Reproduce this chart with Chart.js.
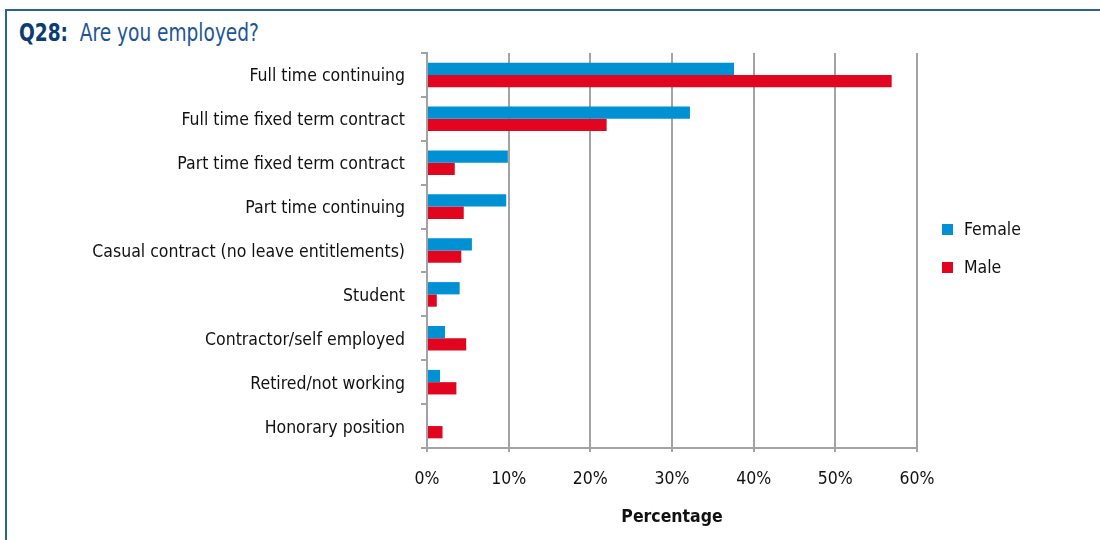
<!DOCTYPE html>
<html>
<head>
<meta charset="utf-8">
<script src="https://cdn.jsdelivr.net/npm/chart.js@4.4.1/dist/chart.umd.min.js"></script>
<style>
  html, body { margin: 0; padding: 0; background: #fff; }
  body { width: 1100px; height: 540px; position: relative; overflow: hidden;
         font-family: 'Liberation Sans Narrow', 'DejaVu Sans Condensed', 'Arial Narrow', sans-serif; }
  #frame { position: absolute; left: 5px; top: 9px; width: 1100px; height: 540px;
           border-top: 2px solid #2a6396; border-left: 2px solid #2a6396; box-sizing: border-box; }
  #title { position: absolute; left: 19px; top: 19px; font-size: 24px; color: #1d5596; white-space: nowrap;
           transform: scaleX(0.86); transform-origin: left center; }
  #title b { color: #0b3c72; }
  #wrap { position: absolute; left: 0; top: 0; width: 1100px; height: 540px; }
  #legend { position: absolute; left: 942px; top: 210px; font-size: 17.5px; color: #111; }
  .li { display: flex; align-items: center; height: 38px; }
  .sw { width: 11px; height: 11px; margin-right: 11px; }
</style>
</head>
<body>
<div id="frame"></div>
<div id="title"><b>Q28:</b>&nbsp; Are you employed?</div>
<div id="wrap"><canvas id="c" width="1100" height="540"></canvas></div>
<div id="legend"></div>
<script>
const categories = [
  "Full time continuing",
  "Full time fixed term contract",
  "Part time fixed term contract",
  "Part time continuing",
  "Casual contract (no leave entitlements)",
  "Student",
  "Contractor/self employed",
  "Retired/not working",
  "Honorary position"
];
const femaleValues = [37.6, 32.2, 9.9, 9.7, 5.5, 4.0, 2.2, 1.6, 0];
const maleValues   = [56.9, 22.0, 3.4, 4.5, 4.2, 1.2, 4.8, 3.6, 1.9];
const seriesNames = ["Female", "Male"];
const seriesColors = ["#0091d5", "#e2051f"];
const xTicks = [0, 10, 20, 30, 40, 50, 60];
const axisTitle = "Percentage";

const FONT = "'Liberation Sans Narrow', 'DejaVu Sans Condensed', 'Arial Narrow', sans-serif";

const legend = document.getElementById('legend');
seriesNames.forEach((n, i) => {
  const d = document.createElement('div');
  d.className = 'li';
  d.innerHTML = '<span class="sw" style="background:' + seriesColors[i] + '"></span>' + n;
  legend.appendChild(d);
});

new Chart(document.getElementById('c'), {
  type: 'bar',
  data: {
    labels: categories,
    datasets: [
      { label: seriesNames[0], data: femaleValues, backgroundColor: seriesColors[0], barPercentage: 1, categoryPercentage: 0.56 },
      { label: seriesNames[1], data: maleValues, backgroundColor: seriesColors[1], barPercentage: 1, categoryPercentage: 0.56 }
    ]
  },
  options: {
    indexAxis: 'y',
    responsive: false,
    animation: false,
    layout: { padding: { left: 0, right: 183, top: 53, bottom: 0 } },
    plugins: { legend: { display: false }, tooltip: { enabled: false } },
    scales: {
      x: {
        min: 0, max: 60,
        afterBuildTicks: (s) => { s.ticks = xTicks.map(v => ({ value: v })); },
        afterFit: (s) => { s.height = 92; },
        ticks: { callback: (v) => v + '%', color: '#111', font: { family: FONT, size: 17.5 }, padding: 17 },
        grid: { color: '#a3a3a3', lineWidth: 2, tickLength: 4, drawTicks: true },
        border: { color: '#a3a3a3', width: 2 },
        title: { display: true, text: axisTitle, color: '#111', font: { family: FONT, size: 17.5, weight: 'bold' }, padding: { top: 10, bottom: 12 } }
      },
      y: {
        afterFit: (s) => { s.width = 427; },
        ticks: { color: '#111', font: { family: FONT, size: 17.5 }, padding: 16, labelOffset: 2 },
        grid: { drawOnChartArea: false, drawTicks: true, tickLength: 6, color: '#a3a3a3', lineWidth: 2, offset: true },
        border: { color: '#a3a3a3', width: 2 }
      }
    }
  }
});
</script>
</body>
</html>
